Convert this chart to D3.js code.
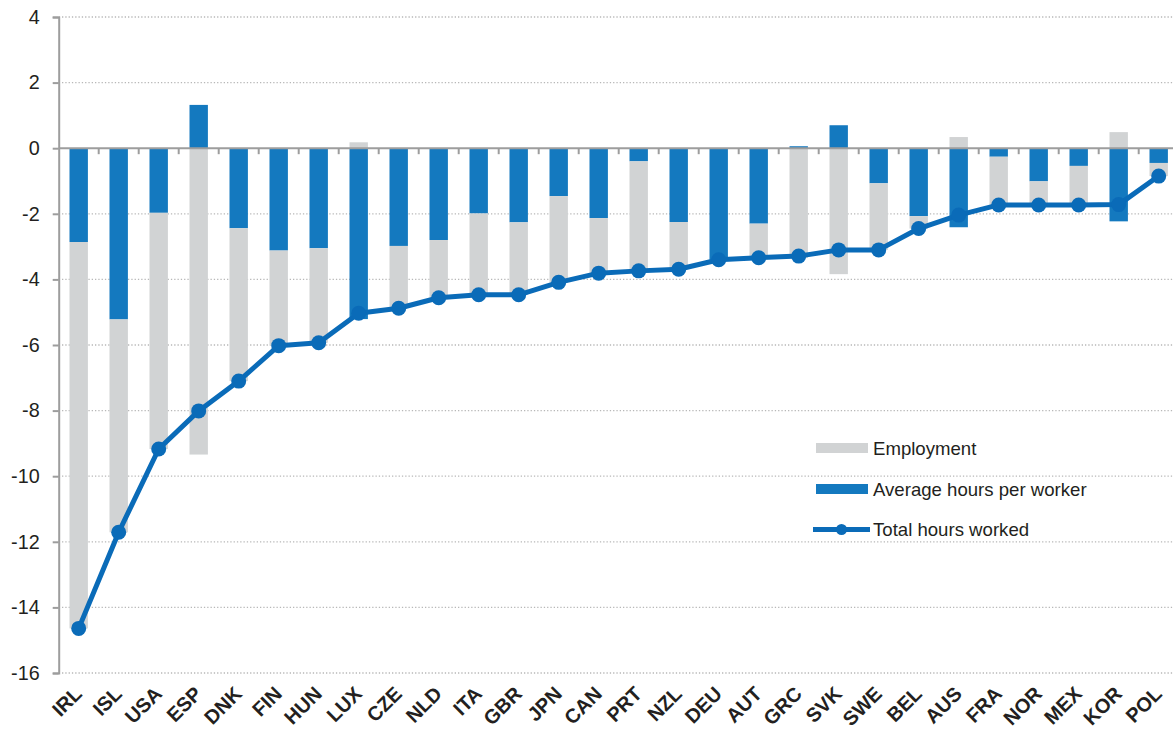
<!DOCTYPE html>
<html lang="en">
  <head>
    <meta charset="UTF-8" />
    <title>Hours worked decomposition</title>
    <script src="https://d3js.org/d3.v7.min.js"></script>
    <style>
      body {
        margin: 0;
        background: #fff;
      }
      svg text {
        font-family: "Liberation Sans", Arial, sans-serif;
        fill: #231f20;
      }
      .xlab {
        font-weight: bold;
        font-size: 20px;
      }
      .ylab {
        font-size: 19.8px;
      }
      .legend_text {
        font-size: 18.6px;
      }
    </style>
  </head>
  <body>
    <svg width="1173" height="732"></svg>
    <script>
      // data
      const countries = ["IRL", "ISL", "USA", "ESP", "DNK", "FIN", "HUN", "LUX", "CZE", "NLD",
        "ITA", "GBR", "JPN", "CAN", "PRT", "NZL", "DEU", "AUT", "GRC", "SVK",
        "SWE", "BEL", "AUS", "FRA", "NOR", "MEX", "KOR", "POL"];
      const hoursPerWorker = [-2.86, -5.22, -1.97, 1.32, -2.44, -3.12, -3.05, -5.21, -2.98, -2.8,
        -1.99, -2.26, -1.46, -2.13, -0.4, -2.25, -3.4, -2.3, 0.06, 0.7,
        -1.07, -2.07, -2.41, -0.26, -1.01, -0.54, -2.23, -0.45];
      const employment = [-11.78, -6.49, -7.2, -9.34, -4.66, -2.9, -2.88, 0.18, -1.9, -1.76,
        -2.48, -2.21, -2.63, -1.68, -3.34, -1.44, 0.0, -1.04, -3.35, -3.84,
        -2.03, -0.38, 0.34, -1.47, -0.72, -1.19, 0.49, -0.4];
      const totalHours = [-14.64, -11.71, -9.17, -8.01, -7.1, -6.02, -5.93, -5.03, -4.88, -4.56,
        -4.47, -4.47, -4.09, -3.81, -3.74, -3.69, -3.4, -3.34, -3.29, -3.1,
        -3.1, -2.45, -2.04, -1.73, -1.73, -1.73, -1.72, -0.85];
      const yTicks = [4, 2, 0, -2, -4, -6, -8, -10, -12, -14, -16];
      const legendLabels = ["Employment", "Average hours per worker", "Total hours worked"];

      const grey = "#d1d3d4";
      const barBlue = "#1479bf";
      const lineBlue = "#0a6bb8";

      const svg = d3.select("svg");
      const plotLeft = 58.7, plotRight = 1178.7, plotTop = 17, plotBottom = 673;

      const x = d3.scaleBand().domain(countries).range([plotLeft, plotRight])
        .paddingInner(0.54).paddingOuter(0.27);
      const y = d3.scaleLinear().domain([-16, 4]).range([plotBottom, plotTop]);

      // gridlines
      svg.append("g")
        .selectAll("line")
        .data(yTicks.filter(d => d !== 0))
        .join("line")
        .attr("x1", plotLeft).attr("x2", 1173)
        .attr("y1", d => y(d)).attr("y2", d => y(d))
        .attr("stroke", "#b8b8b8")
        .attr("stroke-width", 1.3)
        .attr("stroke-dasharray", "1.3,2");

      // stacked bars
      const rows = countries.map((c, i) => ({ country: c, hours: hoursPerWorker[i], employment: employment[i] }));
      const series = d3.stack().keys(["hours", "employment"]).offset(d3.stackOffsetDiverging)(rows);
      const colors = { hours: barBlue, employment: grey };

      svg.append("g")
        .selectAll("g")
        .data(series)
        .join("g")
        .attr("fill", d => colors[d.key])
        .selectAll("rect")
        .data(d => d)
        .join("rect")
        .attr("x", d => x(d.data.country))
        .attr("width", x.bandwidth())
        .attr("y", d => y(Math.max(d[0], d[1])))
        .attr("height", d => Math.abs(y(d[0]) - y(d[1])));

      // y axis
      const yAxis = d3.axisLeft(y).tickValues(yTicks).tickSize(6).tickPadding(13)
        .tickFormat(d => String(d));
      const gy = svg.append("g").attr("transform", `translate(${plotLeft},0)`).call(yAxis);
      gy.select(".domain").attr("stroke", "#9d9d9d").attr("stroke-width", 2);
      gy.selectAll(".tick line").attr("stroke", "#9d9d9d").attr("stroke-width", 2);
      gy.selectAll(".tick text").attr("class", "ylab").attr("fill", "#231f20");

      // zero line and category ticks
      svg.append("line")
        .attr("x1", plotLeft).attr("x2", 1173)
        .attr("y1", y(0)).attr("y2", y(0))
        .attr("stroke", "#9d9d9d").attr("stroke-width", 2);
      const step = x.step();
      svg.append("g")
        .selectAll("line")
        .data(countries.slice(1))
        .join("line")
        .attr("x1", d => x(d) - step * x.paddingInner() / 2)
        .attr("x2", d => x(d) - step * x.paddingInner() / 2)
        .attr("y1", y(0)).attr("y2", y(0) + 6)
        .attr("stroke", "#9d9d9d").attr("stroke-width", 2);

      // total hours line
      const cx = c => x(c) + x.bandwidth() / 2;
      const line = d3.line().x((d, i) => cx(countries[i])).y(d => y(d));
      svg.append("path")
        .datum(totalHours)
        .attr("d", line)
        .attr("fill", "none")
        .attr("stroke", lineBlue)
        .attr("stroke-width", 5)
        .attr("stroke-linejoin", "round");
      svg.append("g")
        .selectAll("circle")
        .data(totalHours)
        .join("circle")
        .attr("cx", (d, i) => cx(countries[i]))
        .attr("cy", d => y(d))
        .attr("r", 7.5)
        .attr("fill", lineBlue);

      // x labels
      svg.append("g")
        .selectAll("text")
        .data(countries)
        .join("text")
        .attr("class", "xlab")
        .attr("text-anchor", "end")
        .attr("transform", d => `translate(${cx(d) + 4.5},${695}) rotate(-45)`)
        .text(d => d);

      // legend
      const lg = svg.append("g").attr("transform", "translate(816,0)");
      lg.append("rect").attr("x", 0).attr("y", 443).attr("width", 52).attr("height", 10).attr("fill", grey);
      lg.append("rect").attr("x", 0).attr("y", 484).attr("width", 52).attr("height", 10).attr("fill", barBlue);
      lg.append("line").attr("x1", -3).attr("x2", 54).attr("y1", 529.5).attr("y2", 529.5)
        .attr("stroke", lineBlue).attr("stroke-width", 5);
      lg.append("circle").attr("cx", 25.5).attr("cy", 529.5).attr("r", 5.5).attr("fill", lineBlue);
      lg.selectAll("text.legend_text")
        .data(legendLabels)
        .join("text")
        .attr("class", "legend_text")
        .attr("x", 57)
        .attr("y", (d, i) => [448, 489, 529.5][i])
        .attr("dy", "0.35em")
        .text(d => d);
    </script>
  </body>
</html>
